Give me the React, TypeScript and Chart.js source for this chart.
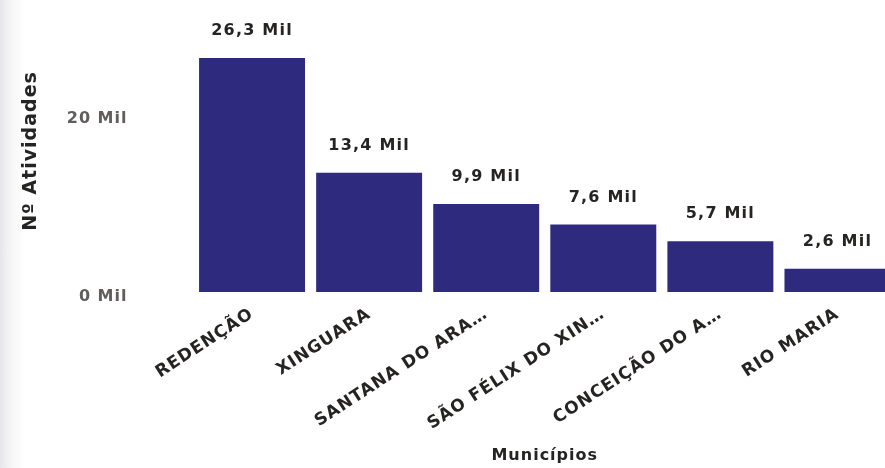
import React, { useEffect, useRef } from "react";
import { Chart, registerables } from "chart.js";

Chart.register(...registerables);

const categories = [
  "REDENÇÃO",
  "XINGUARA",
  "SANTANA DO ARA…",
  "SÃO FÉLIX DO XIN…",
  "CONCEIÇÃO DO A…",
  "RIO MARIA",
];
const atividades = [26300, 13400, 9900, 7600, 5700, 2600];
const yTickValues = [0, 20000];

const FONT = "'DejaVu Sans', sans-serif";
const BAR_COLOR = "#2E2B7E";
const TEXT_DARK = "#252423";
const TEXT_GRAY = "#605E5C";

const fmtMil = (v: number, decimals: number) =>
  (v / 1000).toFixed(decimals).replace(".", ",") + " Mil";

const spacingPlugin = {
  id: "spacing",
  beforeDraw(chart: any) {
    chart.ctx.letterSpacing = "1px";
  },
};

const dataLabelPlugin = {
  id: "dataLabels",
  afterDatasetsDraw(chart: any) {
    const ctx = chart.ctx;
    const meta = chart.getDatasetMeta(0);
    const data = chart.data.datasets[0].data as number[];
    ctx.save();
    ctx.letterSpacing = "1.2px";
    ctx.font = `bold 16px ${FONT}`;
    ctx.fillStyle = TEXT_DARK;
    ctx.textAlign = "center";
    ctx.textBaseline = "middle";
    meta.data.forEach((bar: any, i: number) => {
      ctx.fillText(fmtMil(data[i], 1), bar.x, bar.y - 27);
    });
    ctx.restore();
  },
};

export default function App() {
  const ref = useRef<HTMLCanvasElement | null>(null);

  useEffect(() => {
    if (!ref.current) return;
    const chart = new Chart(ref.current, {
      type: "bar",
      data: {
        labels: categories,
        datasets: [
          {
            data: atividades,
            backgroundColor: BAR_COLOR,
            barPercentage: 0.905,
            categoryPercentage: 1,
          },
        ],
      },
      options: {
        responsive: false,
        animation: false,
        devicePixelRatio: 1,
        layout: { padding: { top: 10, left: 0, right: 0, bottom: 0 } },
        plugins: {
          legend: { display: false },
          tooltip: { enabled: false },
        },
        scales: {
          x: {
            type: "category",
            offset: true,
            grid: { display: false },
            border: { display: false },
            ticks: {
              autoSkip: false,
              minRotation: 33,
              maxRotation: 33,
              padding: 4,
              color: TEXT_DARK,
              font: { family: FONT, size: 17, weight: "bold" },
            },
            title: {
              display: true,
              text: "Municípios",
              color: TEXT_DARK,
              font: { family: FONT, size: 16, weight: "bold" },
              padding: { top: 0, bottom: 3 },
            },
            afterFit(scale: any) {
              scale.height = 176;
            },
          },
          y: {
            min: 0,
            max: 31700,
            grid: { display: false },
            border: { display: false },
            ticks: {
              padding: 58,
              labelOffset: 5,
              color: TEXT_GRAY,
              font: { family: FONT, size: 16, weight: "bold" },
              callback: (v: any) => fmtMil(Number(v), 0),
            },
            afterBuildTicks(scale: any) {
              scale.ticks = yTickValues.map((value) => ({ value }));
            },
            title: {
              display: true,
              text: "Nº Atividades",
              color: TEXT_DARK,
              font: { family: FONT, size: 19, weight: "bold" },
              padding: { top: 20, bottom: 0 },
            },
            afterFit(scale: any) {
              scale.width = 193.5;
              scale.paddingTop = 0;
              scale.paddingBottom = 0;
            },
          },
        },
      },
      plugins: [spacingPlugin, dataLabelPlugin],
    });
    return () => chart.destroy();
  }, []);

  return (
    <div
      style={{
        position: "fixed",
        left: 0,
        top: 0,
        width: 885,
        height: 468,
        overflow: "hidden",
        background:
          "linear-gradient(to right, #e6e6ea 0px, #f7f7f8 12px, #ffffff 26px)",
      }}
    >
      <canvas ref={ref} width={896} height={468} style={{ display: "block" }} />
    </div>
  );
}
